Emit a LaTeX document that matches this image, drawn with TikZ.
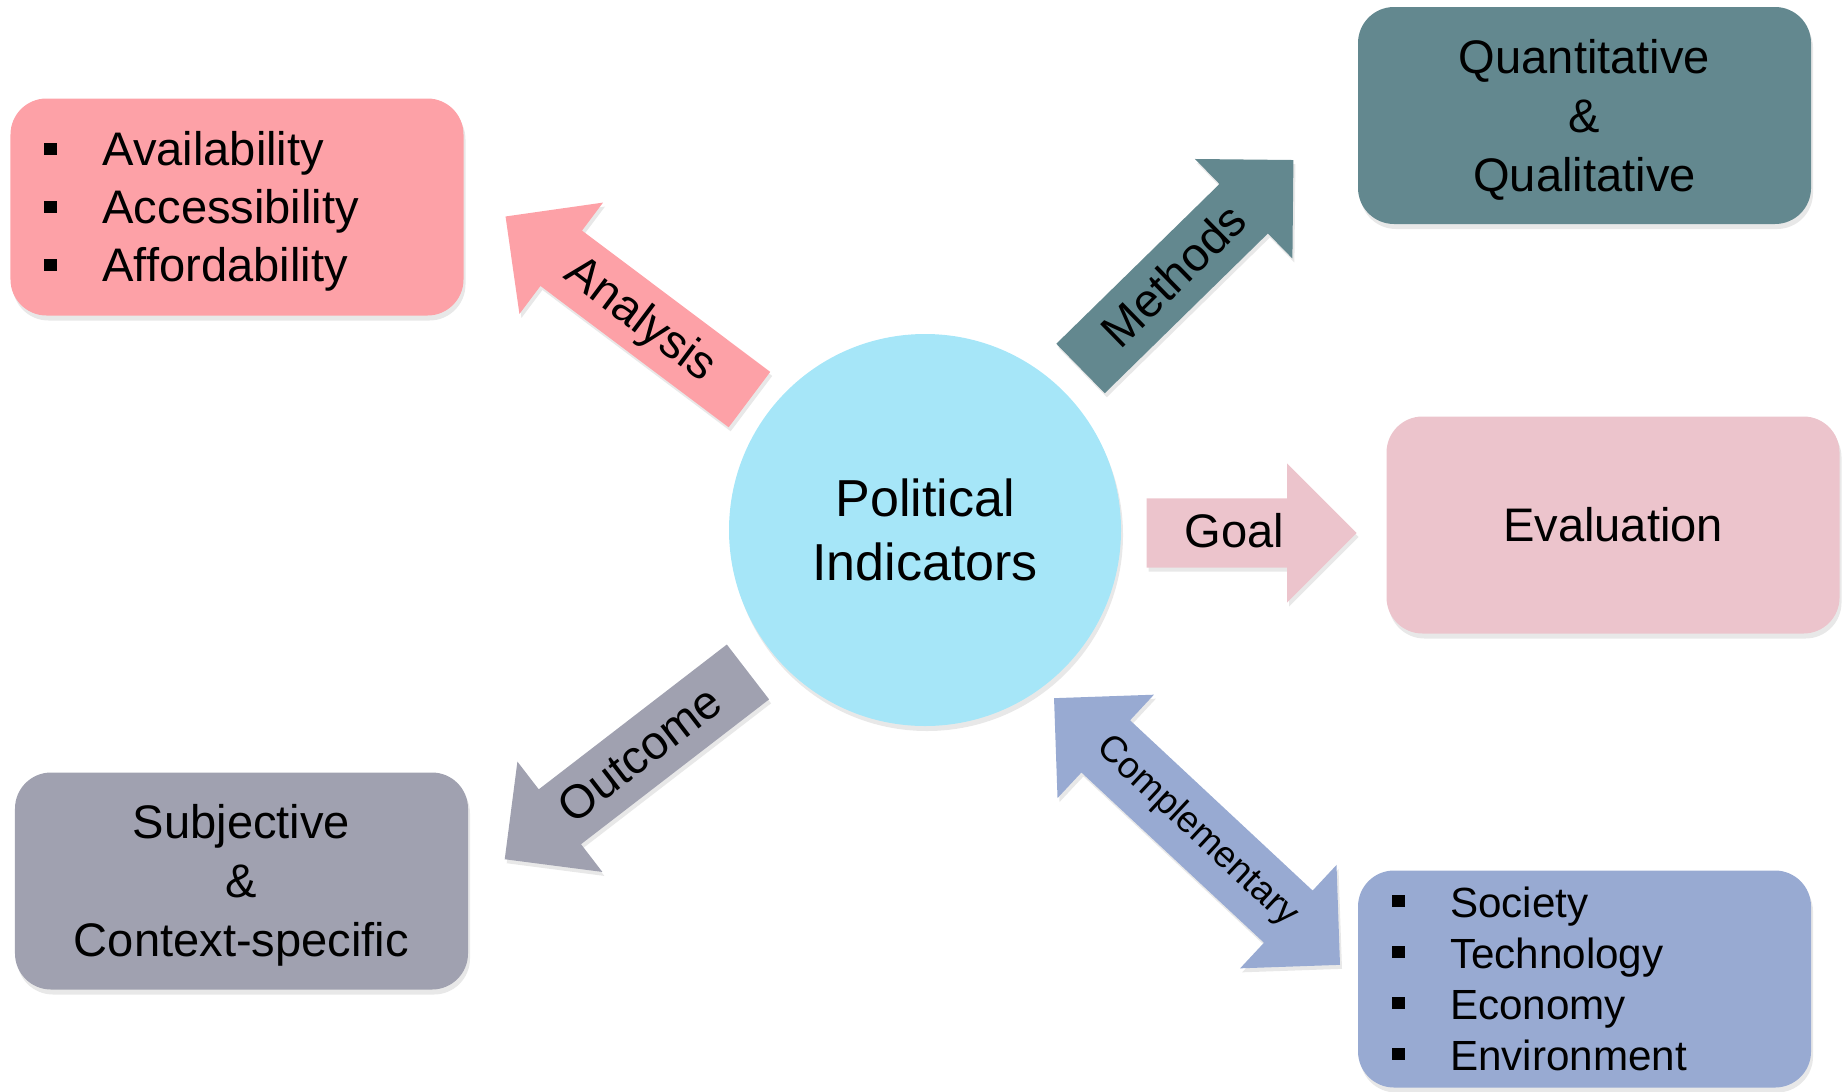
\documentclass[tikz,border=0pt]{standalone}
\usepackage{fontspec}
\setmainfont{Liberation Sans}
\usepackage{xcolor}
\definecolor{analysispink}{RGB}{253,161,167}
\definecolor{methodsteal}{RGB}{99,136,143}
\definecolor{goalpink}{RGB}{236,196,204}
\definecolor{outcomegray}{RGB}{160,161,176}
\definecolor{complblue}{RGB}{152,170,210}
\definecolor{centercyan}{RGB}{166,230,248}
\usepackage{tikz}
\usetikzlibrary{shapes,arrows,positioning,calc,shadows}

\newcommand{\sqitem}[1]{\rule[0.105cm]{0.13cm}{0.12cm}\hspace{0.45cm}#1}

\begin{document}
\begin{tikzpicture}[
        box/.style={rounded corners=0.36cm, minimum width=4.53cm, minimum height=2.17cm,
            align=center, font=\fontsize{13.4}{16.8}\selectfont, text depth=3pt,
            drop shadow={opacity=0.18, shadow xshift=0.02cm, shadow yshift=-0.05cm}},
        listbox/.style={box, align=left, inner xsep=0.34cm, text width=3.85cm,
            font=\fontsize{13.4}{16.5}\selectfont},
        blockarrow/.style={single arrow, single arrow head extend=0.35cm, minimum width=1.38cm,
            inner xsep=1pt, inner ysep=3.4pt, text height=10.5pt, text depth=2pt,
            anchor=tail, font=\fontsize{13.4}{15}\selectfont,
            drop shadow={opacity=0.18, shadow xshift=0.02cm, shadow yshift=-0.04cm}}
    ]
    \useasboundingbox (0,0) rectangle (18.43,-10.91);
    \node[circle, fill=centercyan, minimum size=3.92cm, align=center,
        font=\fontsize{14.8}{18.3}\selectfont,
        drop shadow={opacity=0.18, shadow xshift=0.02cm, shadow yshift=-0.05cm}]
        (pol) at (9.25,-5.30) {Political\\Indicators};
    \node[listbox, fill=analysispink, text height=12.5pt, text depth=36pt] (access) at (2.37,-2.07)
        {\sqitem{Availability}\\\sqitem{Accessibility}\\\sqitem{Affordability}};
    \node[box, fill=methodsteal, text height=46.1pt] (quant) at (15.845,-1.155)
        {Quantitative\\\&\\Qualitative};
    \node[box, fill=goalpink, text height=12.5pt] (eval) at (16.13,-5.25) {Evaluation};
    \node[box, fill=outcomegray, text height=46.1pt] (subj) at (2.415,-8.81)
        {Subjective\\\&\\Context-specific};
    \node[listbox, fill=complblue, font=\fontsize{12}{14.5}\selectfont,
        text height=8.6pt, text depth=43.5pt] (society) at (15.845,-9.79)
        {\sqitem{Society}\\\sqitem{Technology}\\\sqitem{Economy}\\\sqitem{Environment}};
    \node[blockarrow, fill=analysispink, minimum height=3.05cm, rotate=-36.9,
        shape border rotate=180] (analysis) at (7.50,-4.00) {Analysis};
    \node[blockarrow, fill=methodsteal, minimum height=2.98cm, rotate=44.4]
        (methods) at (10.80,-3.69) {Methods};
    \node[blockarrow, fill=goalpink, minimum height=2.10cm] (goal) at (11.46,-5.33) {Goal};
    \node[blockarrow, fill=outcomegray, minimum height=3.07cm, rotate=37.6,
        shape border rotate=180] (outcome) at (7.485,-6.715) {Outcome};
    \node[double arrow, double arrow head extend=0.35cm, minimum width=1.40cm,
        minimum height=3.91cm, inner xsep=1pt, inner ysep=4.75pt,
        text height=8pt, text depth=2.4pt, rotate=-43, fill=complblue,
        font=\fontsize{10.5}{12}\selectfont,
        drop shadow={opacity=0.18, shadow xshift=0.02cm, shadow yshift=-0.04cm}]
        (compl) at (11.97,-8.315) {Complementary};
\end{tikzpicture}
\end{document}
